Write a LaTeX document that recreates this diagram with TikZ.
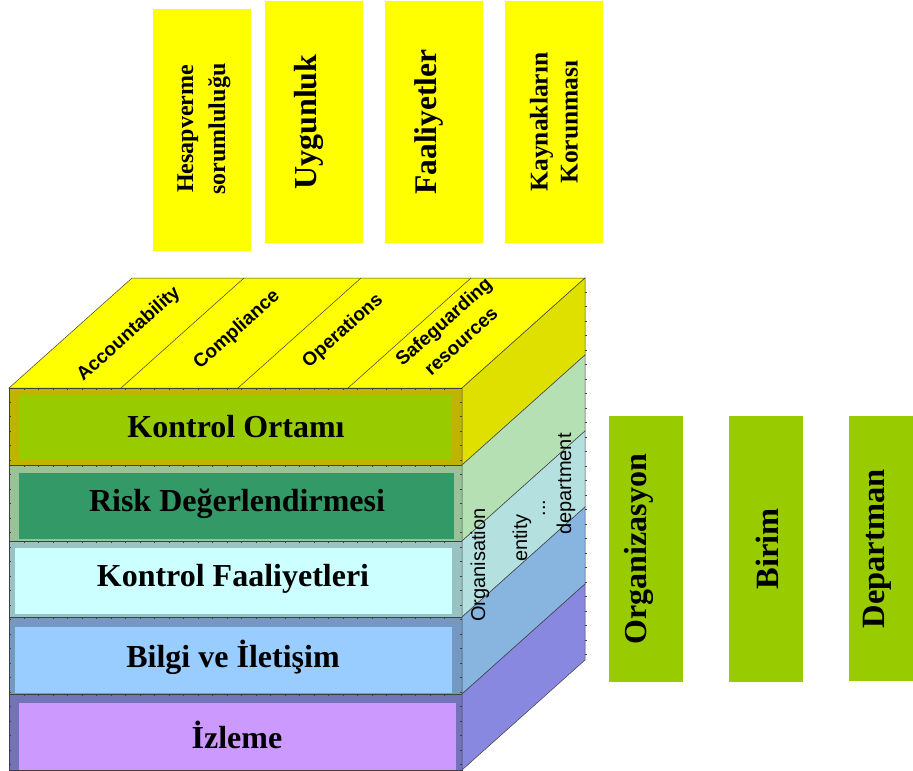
\documentclass[tikz,border=0pt]{standalone}
\usepackage{fontspec}
\setmainfont{Liberation Serif}
\newfontfamily\arialfont{Liberation Sans}
\definecolor{topyellow}{HTML}{FFFF00}
\definecolor{sideyellow}{HTML}{E0E000}
\definecolor{koout}{HTML}{BFB500}
\definecolor{koin}{HTML}{99CC00}
\definecolor{rdout}{HTML}{99C299}
\definecolor{rdin}{HTML}{339966}
\definecolor{rdside}{HTML}{B4E0B4}
\definecolor{kfout}{HTML}{99C2C2}
\definecolor{kfin}{HTML}{CCFFFF}
\definecolor{kfside}{HTML}{B4E0E0}
\definecolor{biout}{HTML}{7399C2}
\definecolor{biin}{HTML}{99CCFF}
\definecolor{biside}{HTML}{88B4E0}
\definecolor{izout}{HTML}{7373B8}
\definecolor{izin}{HTML}{CC99FF}
\definecolor{izside}{HTML}{8888E0}
\definecolor{edgegray}{HTML}{404040}
\begin{document}
\begin{tikzpicture}[x=1pt,y=-1pt,
  edge/.style={draw=edgegray, line width=0.5pt},
  tick/.style={draw=black!75, line width=0.5pt},
  layertext/.style={font=\fontsize{32}{34}\selectfont\bfseries, inner sep=0pt},
  toplabel/.style={font=\arialfont\bfseries\fontsize{19}{26}\selectfont, rotate=41.8, align=center, inner sep=0pt},
  sidelabel/.style={font=\arialfont\fontsize{20}{22}\selectfont, rotate=90, inner sep=0pt},
  ybox/.style={fill=topyellow, draw=none},
  gbox/.style={fill=koin, draw=none},
  boxtext/.style={font=\bfseries, rotate=90, align=center, inner sep=0pt}]
\useasboundingbox (0,0) rectangle (913,771);

% ---------- upper row: objective boxes ----------
\fill[ybox] (153,9) rectangle (251,251);
\fill[ybox] (265,1) rectangle (363,243);
\fill[ybox] (385,1) rectangle (483,243);
\fill[ybox] (505,1) rectangle (603,243);
\node[boxtext, font=\bfseries\fontsize{24}{32}\selectfont] (hes) at (204,129) {Hesapverme\\sorumluluğu};
\node[boxtext, font=\bfseries\fontsize{32}{34}\selectfont] (uyg) at (309,122) {Uygunluk};
\node[boxtext, font=\bfseries\fontsize{31.5}{34}\selectfont] (faa) at (429,122) {Faaliyetler};
\node[boxtext, font=\bfseries\fontsize{25.5}{30}\selectfont] (kay) at (554,122) {Kaynakların\\Korunması};

% ---------- right column: unit boxes ----------
\fill[gbox] (609,416) rectangle (683,682);
\fill[gbox] (729,416) rectangle (803,682);
\fill[gbox] (849,416) rectangle (913,681);
\node[boxtext, font=\bfseries\fontsize{32}{34}\selectfont] (org) at (639,549) {Organizasyon};
\node[boxtext, font=\bfseries\fontsize{32.5}{34}\selectfont] (bir) at (767,549) {Birim};
\node[boxtext, font=\bfseries\fontsize{32.5}{34}\selectfont] (dep) at (877,549) {Departman};

% ---------- cube: top face ----------
\filldraw[edge, fill=topyellow] (9,388) -- (462,388) -- (585,278) -- (132,278) -- cycle;
\draw[edge] (121,388) -- (244,278);
\draw[edge] (238,388) -- (361,278);
\draw[edge] (348,388) -- (471,278);
\node[toplabel] (acc) at (129,334) {Accountability};
\node[toplabel] (com) at (237,330) {Compliance};
\node[toplabel] (ope) at (343,331) {Operations};
\node[toplabel] (saf) at (452,331) {Safeguarding\\resources};

% ---------- cube: layers (front band, inner panel, side face) ----------
% Kontrol Ortamı
\filldraw[edge, fill=koout] (9,388) rectangle (462,465);
\fill[koin] (19,395) rectangle (452,460);
\filldraw[edge, fill=sideyellow] (462,388) -- (585,278) -- (585,355) -- (462,465) -- cycle;
\node[layertext] (ko) at (236,427) {Kontrol Ortamı};
% Risk Değerlendirmesi
\filldraw[edge, fill=rdout] (9,465) rectangle (462,541);
\fill[rdin] (19,473) rectangle (454,539);
\filldraw[edge, fill=rdside] (462,465) -- (585,355) -- (585,431) -- (462,541) -- cycle;
\node[layertext] (rd) at (237,504) {Risk Değerlendirmesi};
% Kontrol Faaliyetleri
\filldraw[edge, fill=kfout] (9,541) rectangle (462,617);
\fill[kfin] (15,548) rectangle (452,614);
\filldraw[edge, fill=kfside] (462,541) -- (585,431) -- (585,507) -- (462,617) -- cycle;
\node[layertext] (kf) at (233,579) {Kontrol Faaliyetleri};
% Bilgi ve İletişim
\filldraw[edge, fill=biout] (9,617) rectangle (462,694);
\fill[biin] (15,627) rectangle (452,693);
\filldraw[edge, fill=biside] (462,617) -- (585,507) -- (585,584) -- (462,694) -- cycle;
\node[layertext] (bi) at (233,657) {Bilgi ve İletişim};
% İzleme
\filldraw[edge, fill=izout] (9,694) rectangle (462,770);
\fill[izin] (19,703) rectangle (456,770);
\filldraw[edge, fill=izside] (462,694) -- (585,584) -- (585,660) -- (462,770) -- cycle;
\node[layertext] (iz) at (237,735) {İzleme};

% ---------- ruler ticks along the front edges ----------
\foreach \yy in {388,465,541,617,694}
  \foreach \xx in {24,38.5,...,450}
    \draw[tick] (\xx,\yy) -- ++(0,2);
\foreach \yy in {402,416.5,...,768}
  {\draw[tick] (9,\yy) -- ++(2,0);
   \draw[tick] (462,\yy) -- ++(-2,0);}
\foreach \yy in {292,306.5,...,658}
  \draw[tick] (585,\yy) -- ++(2,0);

% ---------- side face labels ----------
\node[sidelabel] (orga) at (480,565) {Organisation};
\node[sidelabel] (ent) at (522,538) {entity};
\node[sidelabel] (dots) at (544,508) {...};
\node[sidelabel] (dept) at (566,484) {department};
\end{tikzpicture}
\end{document}
